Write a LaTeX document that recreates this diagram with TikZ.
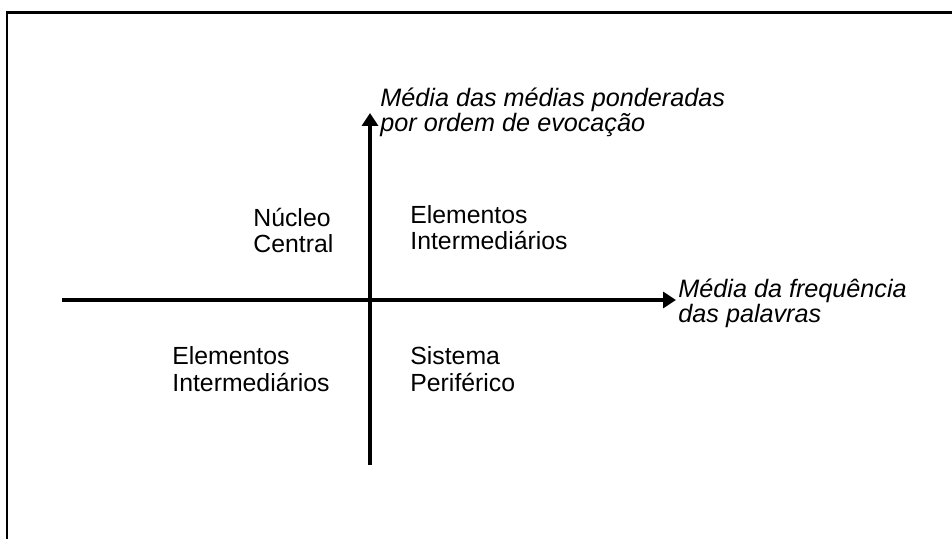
\documentclass[tikz,border=0pt]{standalone}
\usepackage{fontspec}
\setmainfont{Liberation Sans}
\usetikzlibrary{arrows.meta}

\begin{document}
\begin{tikzpicture}[x=0.5pt,y=-0.5pt,
  axis/.style = {line width=2pt, -{Triangle[length=6.5pt,width=8pt]}},
  txt/.style = {anchor=base west, align=left, inner sep=0pt, font=\fontsize{12.4}{13.2}\selectfont},
  axistxt/.style = {txt, font=\fontsize{12.6}{12.6}\selectfont\itshape}]
\useasboundingbox (0,0) rectangle (952,539);
\draw[line width=1.2pt] (7,539) -- (7,12.5) -- (952,12.5);
\coordinate (l) at (62,300);
\coordinate (r) at (676,300);
\coordinate (b) at (370,465);
\coordinate (t) at (370,113);
\draw[axis] (l) -- (r);
\draw[axis] (b) -- (t);
\node[axistxt] (ylab) at (380,132) {Média das médias ponderadas\\por ordem de evocação};
\node[axistxt] (xlab) at (678,323) {Média da frequência\\das palavras};
\node[txt] (nc) at (253,253) {Núcleo\\Central};
\node[txt] (ei1) at (410,250) {Elementos\\Intermediários};
\node[txt] (ei2) at (172,391) {Elementos\\Intermediários};
\node[txt] (sp) at (410,391) {Sistema\\Periférico};
\end{tikzpicture}
\end{document}
